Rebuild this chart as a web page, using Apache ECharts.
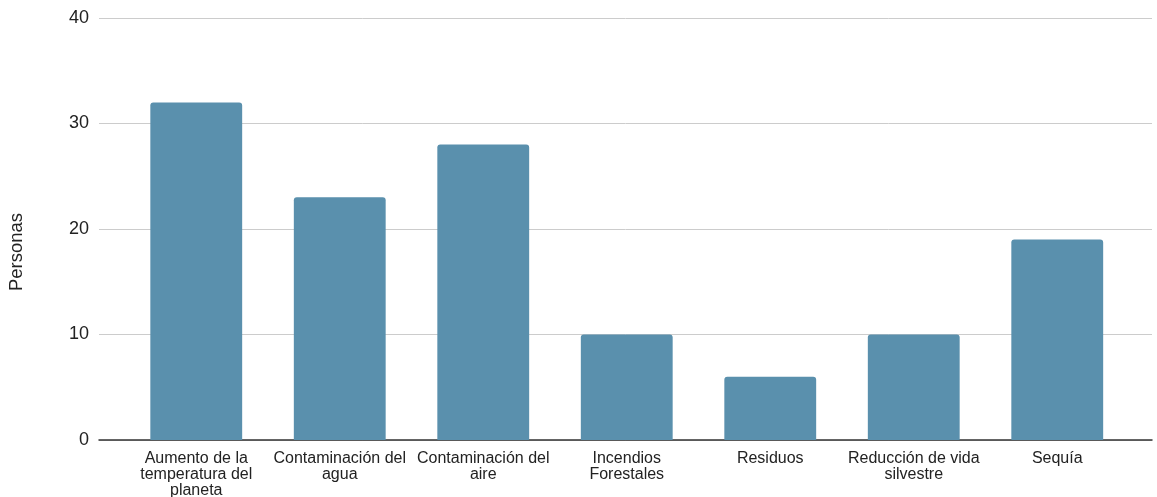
<!DOCTYPE html>
<html><head><meta charset="utf-8">
<script src="https://cdn.jsdelivr.net/npm/echarts@6/dist/echarts.min.js"></script>
<style>html,body{margin:0;padding:0;background:#fff}#c{width:1157px;height:497px}</style>
</head><body><div id="c"></div>
<script>
const categories = ["Aumento de la temperatura del planeta","Contaminación del agua","Contaminación del aire","Incendios Forestales","Residuos","Reducción de vida silvestre","Sequía"];
const tickLabels = ["Aumento de la\ntemperatura del\nplaneta","Contaminación del\nagua","Contaminación del\naire","Incendios\nForestales","Residuos","Reducción de vida\nsilvestre","Sequía"];
const personas = [32, 23, 28, 10, 6, 10, 19];
const yTicks = [0, 10, 20, 30, 40];

const chart = echarts.init(document.getElementById('c'));
const font = 'Liberation Sans, Arial, sans-serif';
chart.setOption({
  animation: false,
  grid: [
    {left: 99, right: 5, top: 18, bottom: 57, outerBoundsMode: 'none', containLabel: false},
    {left: 124.5, right: 28, top: 18, bottom: 57, outerBoundsMode: 'none', containLabel: false}
  ],
  xAxis: [
    {gridIndex: 0, type: 'value', min: 0, max: 1, axisLine: {show: true, lineStyle: {color: '#333', width: 1.5}}, axisTick: {show: false}, axisLabel: {show: false}, splitLine: {show: false}},
    {gridIndex: 1, type: 'category', data: categories, axisLine: {show: false}, axisTick: {show: false},
     axisLabel: {interval: 0, margin: 11, color: '#222', fontSize: 16, lineHeight: 16, fontFamily: font,
       formatter: (v, i) => tickLabels[i]}}
  ],
  yAxis: [
    {gridIndex: 0, type: 'value', min: yTicks[0], max: yTicks[yTicks.length-1], interval: 10,
     axisLine: {show: false}, axisTick: {show: false},
     axisLabel: {color: '#222', fontSize: 18, fontFamily: font, margin: 10},
     splitLine: {show: true, lineStyle: {color: '#ccc', width: 1}}},
    {gridIndex: 1, type: 'value', min: yTicks[0], max: yTicks[yTicks.length-1], interval: 10, show: false}
  ],
  series: [{
    type: 'bar', xAxisIndex: 1, yAxisIndex: 1, data: personas, barWidth: '64%',
    itemStyle: {color: '#5a90ad', borderRadius: [3, 3, 0, 0]}
  }],
  graphic: [{
    type: 'text', rotation: Math.PI / 2,
    x: 17, y: 252,
    style: {text: 'Personas', fill: '#222', fontSize: 18.5, fontFamily: font, textAlign: 'center', textVerticalAlign: 'middle'}
  }]
});
</script></body></html>
